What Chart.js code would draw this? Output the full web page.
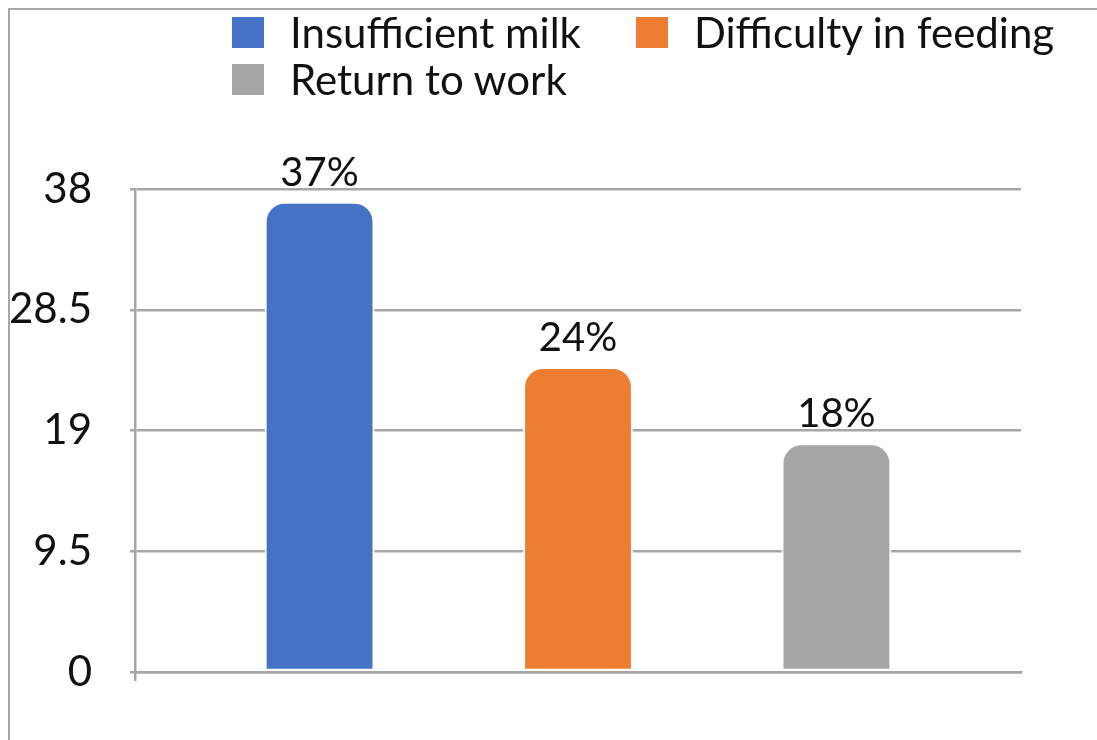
<!DOCTYPE html>
<html>
<head>
<meta charset="utf-8">
<script src="https://cdn.jsdelivr.net/npm/chart.js@4.4.1/dist/chart.umd.min.js"></script>
<style>
    html, body { margin: 0; padding: 0; background: #fff; }
    body { width: 1097px; height: 740px; overflow: hidden; position: relative; font-family: Lato, sans-serif; }
    #frame { position: absolute; left: 8px; top: 8px; width: 1200px; height: 800px; border: 2px solid #a6a6a6; }
    #chart-wrap { position: absolute; left: 0; top: 0; width: 1097px; height: 740px; }
    #legend { position: absolute; left: 232px; top: 10px; display: grid; grid-template-columns: 404px auto; row-gap: 3px; }
    .item { display: flex; align-items: center; font-size: 42px; line-height: 44px; color: #111; white-space: nowrap; }
    .box { width: 32px; height: 31px; margin-right: 26px; flex: none; }
</style>
</head>
<body>
<div id="frame"></div>
<div id="chart-wrap"><canvas id="chart"></canvas></div>
<div id="legend"></div>
<script>
    // data
    const categories = [''];
    const seriesNames = ['Insufficient milk', 'Difficulty in feeding', 'Return to work'];
    const seriesValues = [[37], [24], [18]];
    const yTicks = [0, 9.5, 19, 28.5, 38];

    const seriesColors = ['#4472C4', '#ED7D31', '#A5A5A5'];
    const lineGray = '#a6a6a6';

    // value labels above each bar, e.g. "37%"
    const valueLabels = {
        id: 'valueLabels',
        afterDatasetsDraw(chart) {
            const { ctx } = chart;
            ctx.save();
            ctx.font = '40px Lato';
            ctx.fillStyle = '#111';
            ctx.textAlign = 'center';
            ctx.textBaseline = 'bottom';
            chart.data.datasets.forEach((ds, i) => {
                chart.getDatasetMeta(i).data.forEach((bar, j) => {
                    ctx.fillText(ds.data[j] + '%', bar.x, bar.y - 9);
                });
            });
            ctx.restore();
        },
    };

    // legend as plain html, rows left-aligned like the original
    const legendEl = document.getElementById('legend');
    seriesNames.forEach((name, i) => {
        const item = document.createElement('div');
        item.className = 'item';
        const box = document.createElement('span');
        box.className = 'box';
        box.style.background = seriesColors[i];
        item.appendChild(box);
        item.appendChild(document.createTextNode(name));
        legendEl.appendChild(item);
    });

    new Chart(document.getElementById('chart'), {
        type: 'bar',
        data: {
            labels: categories,
            datasets: seriesNames.map((name, i) => ({
                label: name,
                data: seriesValues[i],
                backgroundColor: seriesColors[i],
                borderColor: '#fff',
                borderWidth: 2,
                borderSkipped: false,
                borderRadius: { topLeft: 20, topRight: 20, bottomLeft: 0, bottomRight: 0 },
                categoryPercentage: 0.875,
                barPercentage: 0.425,
            })),
        },
        plugins: [valueLabels],
        options: {
            responsive: true,
            maintainAspectRatio: false,
            animation: false,
            layout: { padding: { left: 0, right: 76, top: 189, bottom: 48 } },
            plugins: {
                legend: { display: false },
                tooltip: { enabled: false },
            },
            scales: {
                x: {
                    ticks: { display: false },
                    grid: {
                        drawOnChartArea: false,
                        color: (c) => (c.index === 0 ? lineGray : 'rgba(0,0,0,0)'),
                        lineWidth: 2.5,
                        tickLength: 9,
                    },
                    border: { color: lineGray, width: 2.5 },
                    afterFit: (s) => { s.height = 20; },
                },
                y: {
                    min: yTicks[0],
                    max: yTicks[yTicks.length - 1],
                    afterBuildTicks: (s) => { s.ticks = yTicks.map((v) => ({ value: v })); },
                    ticks: {
                        padding: 38,
                        color: '#111',
                        font: { family: 'Lato', size: 42 },
                        callback: (v) => String(v),
                    },
                    grid: { color: lineGray, lineWidth: 2.5, tickLength: 5 },
                    border: { color: lineGray, width: 2.5 },
                    afterFit: (s) => { s.width = 135; },
                },
            },
        },
    });
</script>
</body>
</html>
